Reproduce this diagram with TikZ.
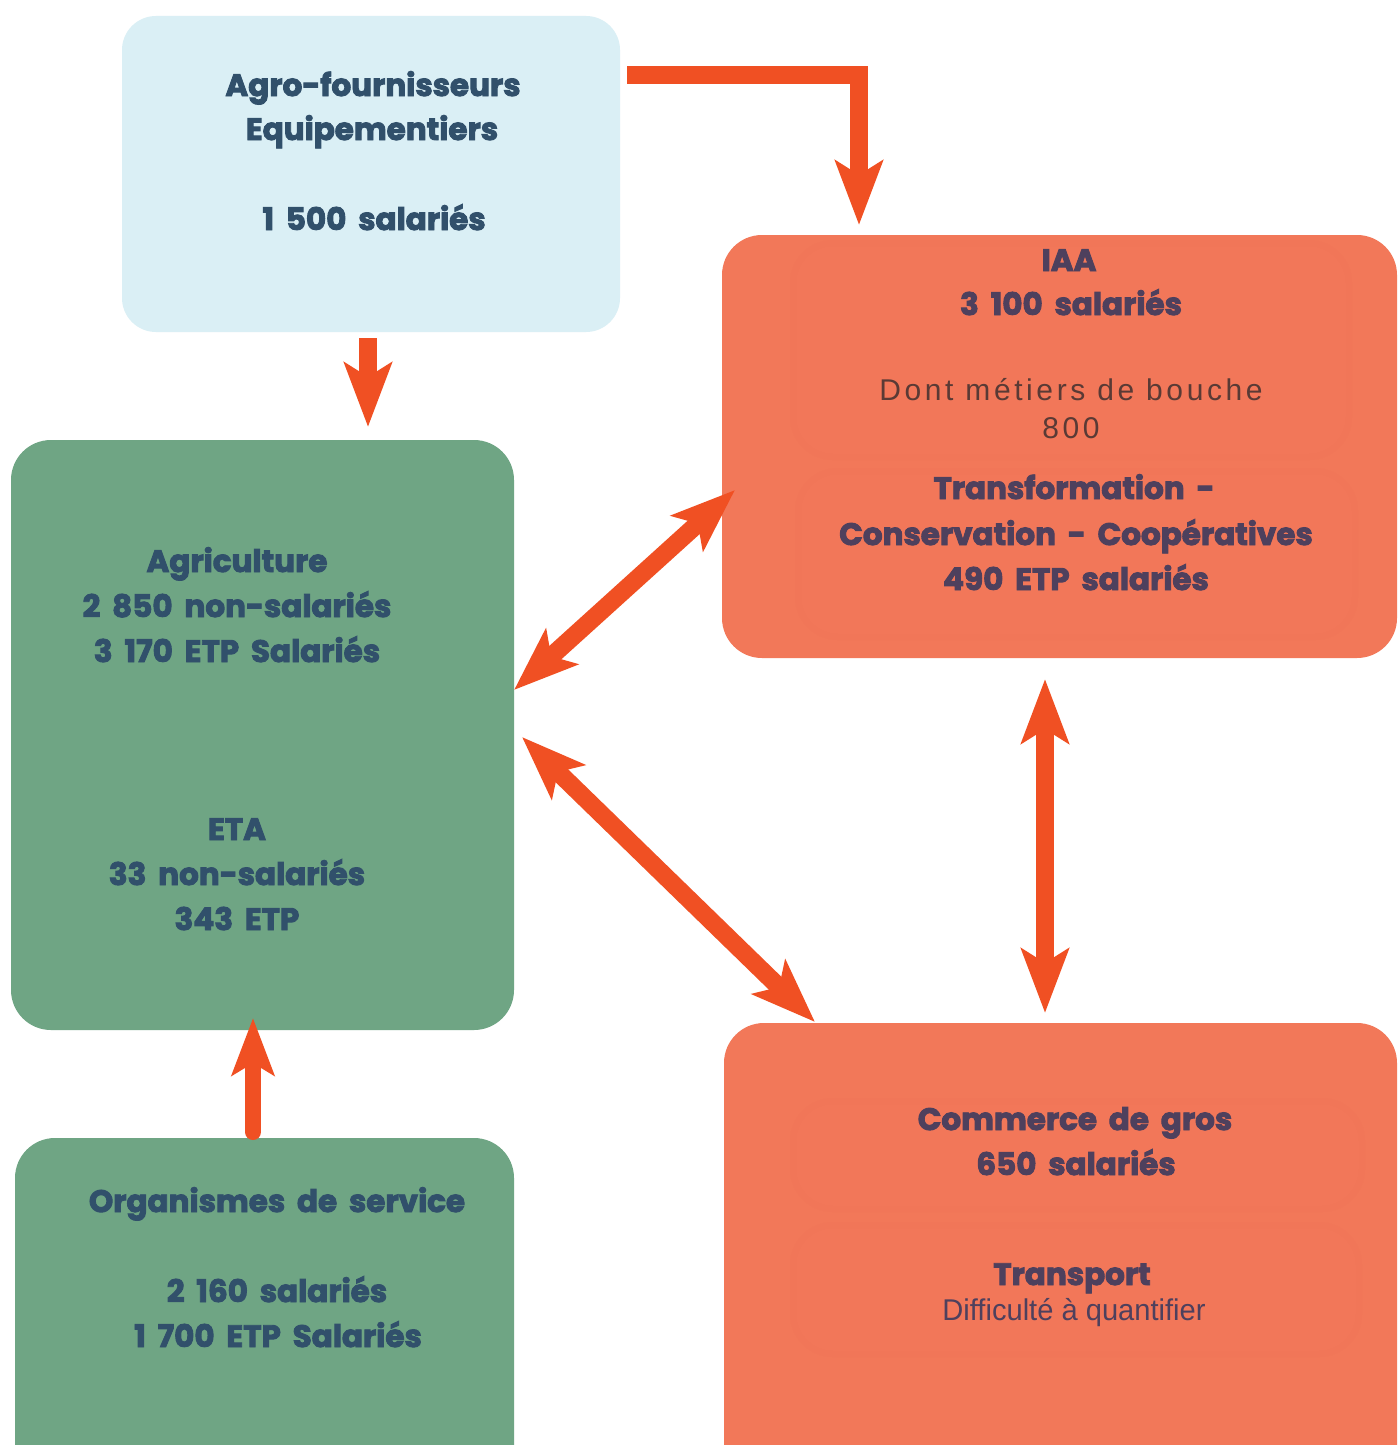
\documentclass[tikz,border=0pt]{standalone}
\usepackage{fontspec}
\usetikzlibrary{arrows.meta}
\newfontfamily\heavy{Poppins}[UprightFont=* Bold, UprightFeatures={FakeBold=3}, WordSpace=1.8]
\newfontfamily\plain{Liberation Sans}
\newfontfamily\spaced{Liberation Sans}[LetterSpace=12]
\definecolor{skyfill}{HTML}{DAEFF5}
\definecolor{greenfill}{HTML}{6FA584}
\definecolor{orangefill}{HTML}{F27859}
\definecolor{innerfill}{HTML}{F27759}
\definecolor{innerline}{HTML}{F17658}
\definecolor{arrowc}{HTML}{F05023}
\definecolor{bluetxt}{HTML}{31506B}
\definecolor{purpletxt}{HTML}{4E405D}
\definecolor{browntxt}{HTML}{5A3A35}
\begin{document}
\begin{tikzpicture}[x=1pt,y=-1pt,
  box/.style={inner sep=0pt, outer sep=0pt, draw=none},
  skybox/.style={box, fill=skyfill, rounded corners=34pt},
  greenbox/.style={box, fill=greenfill, rounded corners=40pt},
  orangebox/.style={box, fill=orangefill, rounded corners=40pt},
  innerbox/.style={box, draw=innerline, line width=6pt, fill=innerfill, rounded corners=40pt},
  lblB/.style={anchor=base, inner sep=0pt, text=bluetxt, font=\heavy\fontsize{31}{36}\selectfont},
  lblP/.style={anchor=base, inner sep=0pt, text=purpletxt, font=\heavy\fontsize{31}{36}\selectfont},
  conn/.style={draw=arrowc, line width=18pt, -{Stealth[length=64pt, width=47pt, inset=14pt]}},
  connboth/.style={draw=arrowc, line width=18pt, {Stealth[length=64pt, width=47pt, inset=14pt]}-{Stealth[length=64pt, width=47pt, inset=14pt]}}
]
\useasboundingbox (0,0) rectangle (1397,1445);
\clip (0,0) rectangle (1397,1445);
\fill[white] (0,0) rectangle (1397,1445);

% boxes
\node[skybox, minimum width=498pt, minimum height=316pt] (sup) at (371,174) {};
\node[greenbox, minimum width=503pt, minimum height=590pt] (agri) at (262.5,735) {};
\node[greenbox, minimum width=499pt, minimum height=362pt] (org) at (264.5,1319) {};
\node[orangebox, minimum width=675pt, minimum height=423pt] (iaa) at (1059.5,446.5) {};
\node[orangebox, minimum width=673pt, minimum height=477pt] (com) at (1060.5,1261.5) {};

% inner boxes
\node[innerbox, minimum width=556pt, minimum height=214pt] (iaaA) at (1071,350) {};
\node[innerbox, minimum width=557pt, minimum height=166pt] (iaaB) at (1076.5,554) {};
\node[innerbox, minimum width=569pt, minimum height=108pt] (comA) at (1077.5,1155) {};
\node[innerbox, minimum width=566pt, minimum height=129pt] (comB) at (1076,1289.5) {};

% texts: suppliers
\node[lblB] (s1) at (373,96) {Agro-fournisseurs};
\node[lblB] (s2) at (372,140) {Equipementiers};
\node[lblB] (s3) at (374,230) {1 500 salariés};
% agriculture
\node[lblB] (a1) at (237,572) {Agriculture};
\node[lblB] (a2) at (237,617) {2 850 non-salariés};
\node[lblB] (a3) at (237,662) {3 170 ETP Salariés};
\node[lblB] (a4) at (237,840) {ETA};
\node[lblB] (a5) at (237,885) {33 non-salariés};
\node[lblB] (a6) at (237,930) {343 ETP};
% organismes
\node[lblB] (o1) at (277,1212) {Organismes de service};
\node[lblB] (o2) at (277,1302) {2 160 salariés};
\node[lblB] (o3) at (278,1347) {1 700 ETP Salariés};
% IAA
\node[lblP] (i1) at (1069,271) {IAA};
\node[lblP] (i2) at (1071,315) {3 100 salariés};
\node[anchor=base, inner sep=0pt, text=browntxt, font=\spaced\fontsize{30}{36}\selectfont] (i3) at (1071,400) {Dont métiers de bouche};
\node[anchor=base, inner sep=0pt, text=browntxt, font=\spaced\fontsize{30}{36}\selectfont] (i4) at (1071,438) {800};
\node[lblP] (i5) at (1074,499) {Transformation -};
\node[lblP] (i6) at (1076,545) {Conservation - Coopératives};
\node[lblP] (i7) at (1076,590) {490 ETP salariés};
% commerce
\node[lblP] (c1) at (1075,1130) {Commerce de gros};
\node[lblP] (c2) at (1076,1175) {650 salariés};
\node[lblP] (c3) at (1072,1285) {Transport};
\node[anchor=base, inner sep=0pt, text=purpletxt, font=\plain\fontsize{30}{34}\selectfont] (c4) at (1074,1320) {\scalebox{0.97}[1]{Difficulté à quantifier}};

% connector end points
\coordinate (p1s) at (368,338);
\coordinate (p1e) at (368,427);
\coordinate (p2s) at (627,75);
\coordinate (p2e) at (859,225);
\coordinate (p3a) at (514,690);
\coordinate (p3b) at (735,490);
\coordinate (p4a) at (522,737);
\coordinate (p4b) at (815,1022);
\coordinate (p5a) at (1045,679);
\coordinate (p5b) at (1045,1013);
\coordinate (p6s) at (253,1132);
\coordinate (p6e) at (253,1018);

\draw[conn] (p1s) -- (p1e);
\draw[conn, line join=miter] (p2s) -| (p2e);
\draw[connboth] (p3a) -- (p3b);
\draw[connboth] (p4a) -- (p4b);
\draw[connboth] (p5a) -- (p5b);
\draw[conn, line width=16pt, line cap=round, -{Stealth[length=57pt, width=42pt, inset=12pt]}] (p6s) -- (p6e);
\end{tikzpicture}
\end{document}
